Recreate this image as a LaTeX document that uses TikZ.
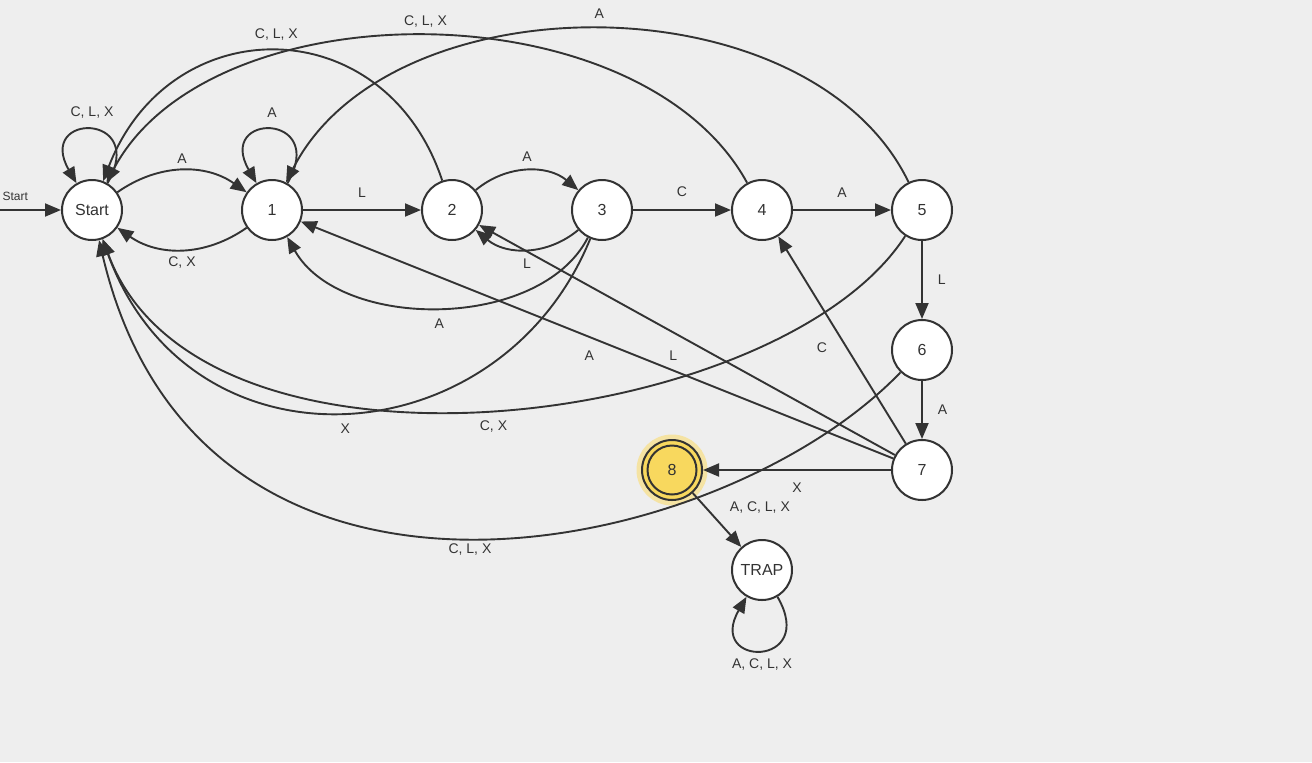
\documentclass[tikz,border=0pt]{standalone}
\usepackage{fontspec}
\setmainfont{Liberation Sans}
\usetikzlibrary{arrows.meta,positioning}
\definecolor{ink}{HTML}{333333}
\definecolor{paper}{HTML}{EEEEEE}
\definecolor{gold}{HTML}{F8D85E}
\definecolor{goldhalo}{HTML}{F5E3A3}
\tikzset{
    >={Triangle[length=8pt,width=6.5pt]},
    every edge/.append style={draw=ink,line width=0.95pt},
    every loop/.style={},
    state/.style={circle,draw=ink,line width=1pt,fill=white,minimum size=30pt,inner sep=0pt,text=ink,font=\fontsize{8}{9.6}\selectfont},
    final/.style={fill=gold,preaction={draw=goldhalo,line width=5.5pt}},
    elabel/.style={text=ink,inner sep=1pt,font=\fontsize{7}{8.4}\selectfont},
    curve/.style={->,draw=ink,line width=0.95pt},
    selfloop/.style={loop,min distance=41pt,looseness=1},
}

\begin{document}
\begin{tikzpicture}[x=0.5pt,y=0.5pt]
    \useasboundingbox (0,0) rectangle (1312,-762);
    \fill[paper] (0,0) rectangle (1312,-762);

    \node[state] (s)    at (92,-210)  {Start};
    \node[state] (q1)   at (272,-210) {1};
    \node[state] (q2)   at (452,-210) {2};
    \node[state] (q3)   at (602,-210) {3};
    \node[state] (q4)   at (762,-210) {4};
    \node[state] (q5)   at (922,-210) {5};
    \node[state] (q6)   at (922,-350) {6};
    \node[state] (q7)   at (922,-470) {7};
    \node[state,final] (q8) at (672,-470) {8};
    \node[state] (trap) at (762,-570) {TRAP};
    \draw[ink,line width=1pt] (q8.center) circle[radius=12.25pt];

    \coordinate (init) at (0,-210);

    % straight moves
    \path[->] (init) edge node[elabel,above=3pt,pos=.25,font=\fontsize{6}{7}\selectfont] {Start} (s)
              (q1) edge node[elabel,above=5pt] {L} (q2)
              (q3) edge node[elabel,above=5pt] {C} (q4)
              (q4) edge node[elabel,above=5pt] {A} (q5)
              (q5) edge node[elabel,right=6.5pt] {L} (q6)
              (q6) edge node[elabel,right=6.5pt] {A} (q7)
              (q7) edge node[elabel,below=5pt] {X} (q8)
              (q8) edge node[elabel,above right=2pt and 5pt] {A, C, L, X} (trap)
              (q7) edge node[elabel,below left=4pt and 0pt] {A} (q1)
              (q7) edge node[elabel,below left=4pt and 3.5pt] {L} (q2)
              (q7) edge node[elabel,left=6pt,yshift=-4pt] {C} (q4);

    % bent pairs
    \path[->] (s)  edge[bend left=35] node[elabel,above=2pt] {A} (q1)
              (q1) edge[bend left=35] node[elabel,below=2pt] {C, X} (s)
              (q2) edge[bend left=40] node[elabel,above=3pt] {A} (q3)
              (q3) edge[bend left=40] node[elabel,below=3.5pt] {L} (q2);

    % self loops
    \path[->] (s)    edge[selfloop,out=60,in=120] node[elabel,above=4.5pt] {C, L, X} (s)
              (q1)   edge[selfloop,out=60,in=120] node[elabel,above=4.5pt] {A} (q1)
              (trap) edge[selfloop,out=-60,in=-120] node[elabel,below=3pt] {A, C, L, X} (trap);

    % long way back
    \draw[curve] (q2) .. controls (385,-8) and (170,-8) .. (s) node[elabel,midway,above=4pt] {C, L, X};
    \draw[curve] (q4) .. controls (640,13) and (210,13) .. (s) node[elabel,midway,above=3pt] {C, L, X};
    \draw[curve] (q5) .. controls (810,22) and (390,22) .. (q1) node[elabel,midway,above=4pt] {A};
    \draw[curve] (q3) .. controls (540,-331) and (340,-331) .. (q1) node[elabel,midway,below=4pt] {A};
    \draw[curve] (q3) .. controls (500,-460) and (190,-480) .. (s) node[elabel,midway,below=4.5pt] {X};
    \draw[curve] (q5) .. controls (780,-430) and (200,-504) .. (s) node[elabel,midway,below=4pt] {C, X};
    \draw[curve] (q6) .. controls (720,-560) and (200,-670) .. (s) node[elabel,midway,below=1.5pt] {C, L, X};
\end{tikzpicture}
\end{document}
